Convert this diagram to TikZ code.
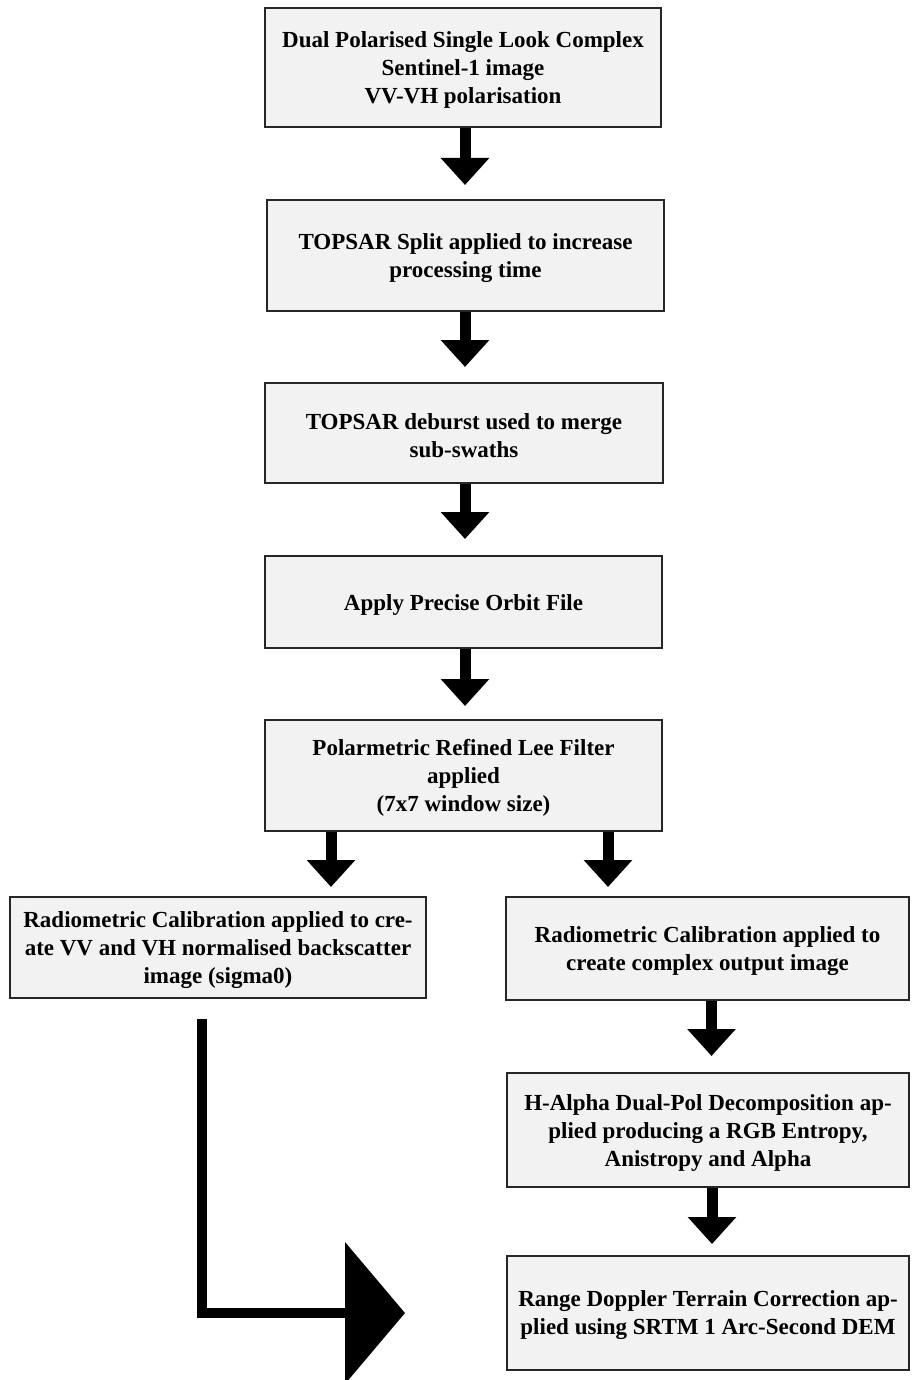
\documentclass[tikz,border=0pt]{standalone}
\usepackage{fontspec}
\setmainfont{Liberation Serif}
\usetikzlibrary{arrows.meta}
\begin{document}
\begin{tikzpicture}[x=1pt,y=-1pt,
  box/.style={draw=black!85, line width=2pt, fill=black!5, inner sep=0pt},
  txt/.style={align=center, inner sep=0pt, yshift=-2.5pt,
    font=\fontsize{23}{28}\selectfont\bfseries},
  flow/.style={line width=11pt, -{Triangle[length=27pt,width=47pt]}},
]
\useasboundingbox (0,0) rectangle (911,1380);
\clip (0,0) rectangle (911,1380);
\node[box, minimum width=396pt, minimum height=119pt,
  label={[txt]center:{Dual Polarised Single Look Complex\\Sentinel-1 image\\VV-VH polarisation}}]
  (b1) at (463,67.5) {};
\node[box, minimum width=397pt, minimum height=111pt,
  label={[txt]center:{TOPSAR Split applied to increase\\processing time}}]
  (b2) at (465.5,255.5) {};
\node[box, minimum width=398pt, minimum height=100pt,
  label={[txt]center:{TOPSAR deburst used to merge\\sub-swaths}}]
  (b3) at (464,433) {};
\node[box, minimum width=397pt, minimum height=92pt,
  label={[txt]center:{Apply Precise Orbit File}}]
  (b4) at (463.5,602) {};
\node[box, minimum width=397pt, minimum height=111pt,
  label={[txt]center:{Polarmetric Refined Lee Filter\\applied\\(7x7 window size)}}]
  (b5) at (463.5,775.5) {};
\node[box, minimum width=416pt, minimum height=101pt,
  label={[txt]center:{Radiometric Calibration applied to cre-\\ate VV and VH normalised backscatter\\image (sigma0)}}]
  (b6) at (218,947.5) {};
\node[box, minimum width=403pt, minimum height=103pt,
  label={[txt]center:{Radiometric Calibration applied to\\create complex output image}}]
  (b7) at (707.5,948.5) {};
\node[box, minimum width=402pt, minimum height=114pt,
  label={[txt]center:{H-Alpha Dual-Pol Decomposition ap-\\plied producing a RGB Entropy,\\Anistropy and Alpha}}]
  (b8) at (708,1130) {};
\node[box, minimum width=402pt, minimum height=114pt,
  label={[txt]center:{Range Doppler Terrain Correction ap-\\plied using SRTM 1 Arc-Second DEM}}]
  (b9) at (708,1313) {};

\draw[flow, shorten >=14pt] ([xshift=2pt]b1.south) -- ([xshift=2pt]b1.south |- b2.north);
\draw[flow, shorten >=15pt] ([xshift=-0.5pt]b2.south) -- ([xshift=-0.5pt]b2.south |- b3.north);
\draw[flow, shorten >=16pt] ([xshift=1pt]b3.south) -- ([xshift=1pt]b3.south |- b4.north);
\draw[flow, shorten >=13pt] ([xshift=1.5pt]b4.south) -- ([xshift=1.5pt]b4.south |- b5.north);
\draw[flow, shorten >=9pt] ([xshift=-132.5pt]b5.south) -- ([xshift=-132.5pt]b5.south |- b6.north);
\draw[flow, shorten >=9pt] ([xshift=144.5pt]b5.south) -- ([xshift=144.5pt]b5.south |- b7.north);
\draw[flow, shorten >=16pt] ([xshift=4pt]b7.south) -- ([xshift=4pt]b7.south |- b8.north);
\draw[flow, shorten >=11pt] ([xshift=4pt]b8.south) -- ([xshift=4pt]b8.south |- b9.north);

\coordinate (Ls) at (202,1019);
\coordinate (Le) at (405,1313);
\draw[line width=10pt, line join=miter, -{Triangle[length=60pt,width=140pt]}] (Ls) |- (Le);
\end{tikzpicture}
\end{document}
